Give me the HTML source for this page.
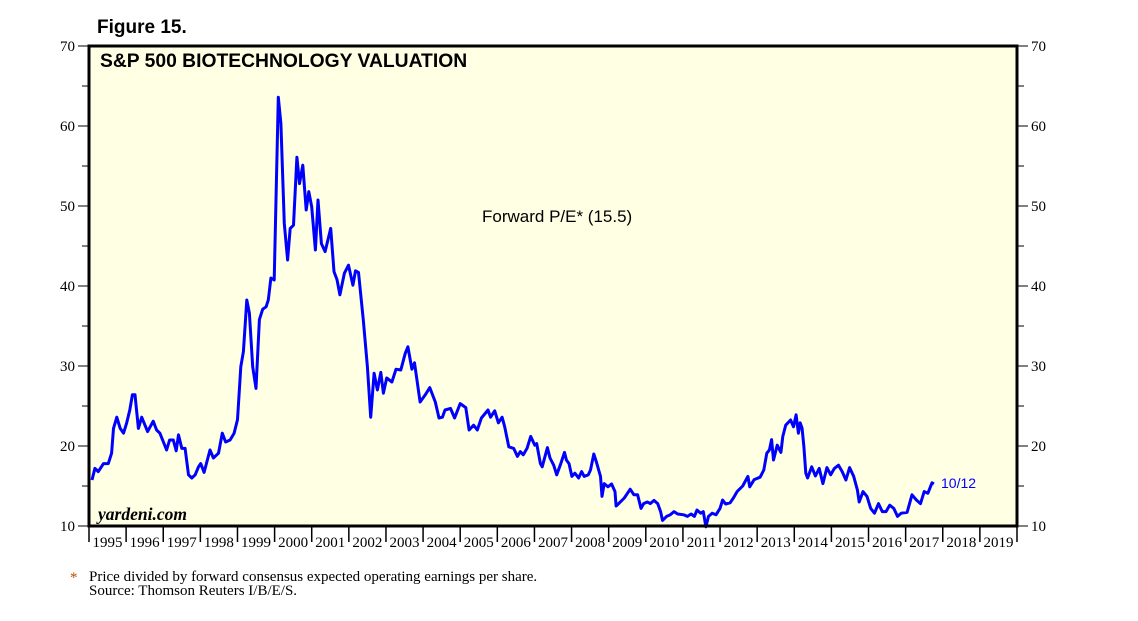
<!DOCTYPE html>
<html><head><meta charset="utf-8"><style>
body{margin:0;background:#fff;width:1138px;height:621px;overflow:hidden}
svg{display:block}
</style></head><body>
<svg id="chart" width="1138" height="621" xmlns="http://www.w3.org/2000/svg">
<text x="97" y="33" font-family="Liberation Sans, sans-serif" font-weight="bold" font-size="19">Figure 15.</text>
<rect x="89" y="46" width="928" height="480" fill="#ffffe4"/>
<g id="grid"></g>
<path id="series" fill="none" stroke="#0000ff" stroke-width="3" stroke-linejoin="round"/>
<rect x="89" y="46" width="928" height="480" fill="none" stroke="#000" stroke-width="3"/>
<text x="100" y="67" font-family="Liberation Sans, sans-serif" font-weight="bold" font-size="19.3">S&amp;P 500 BIOTECHNOLOGY VALUATION</text>
<text x="482" y="222" font-family="Liberation Sans, sans-serif" font-size="17">Forward P/E* (15.5)</text>
<text x="941" y="488" font-family="Liberation Sans, sans-serif" font-size="14" fill="#0000ff">10/12</text>
<text x="98" y="520" font-family="Liberation Serif, serif" font-style="italic" font-weight="bold" font-size="17.5">yardeni.com</text>
<text x="70" y="582" font-family="Liberation Serif, serif" font-size="15" fill="#b05000">*</text>
<text x="89" y="581" font-family="Liberation Serif, serif" font-size="15">Price divided by forward consensus expected operating earnings per share.</text>
<text x="89" y="595" font-family="Liberation Serif, serif" font-size="15">Source: Thomson Reuters I/B/E/S.</text>
</svg>
<script>
const years = [1995.08,1995.16,1995.25,1995.39,1995.52,1995.61,1995.66,1995.75,1995.84,1995.93,1996.01,1996.10,1996.17,1996.24,1996.33,1996.42,1996.58,1996.73,1996.82,1996.91,1997.09,1997.17,1997.27,1997.35,1997.41,1997.50,1997.59,1997.68,1997.77,1997.86,1997.95,1998.01,1998.10,1998.26,1998.35,1998.49,1998.59,1998.68,1998.80,1998.91,1999.00,1999.09,1999.16,1999.25,1999.32,1999.41,1999.50,1999.59,1999.68,1999.77,1999.83,1999.90,1999.99,2000.10,2000.17,2000.26,2000.35,2000.42,2000.51,2000.60,2000.67,2000.76,2000.85,2000.92,2001.00,2001.10,2001.17,2001.26,2001.36,2001.51,2001.60,2001.68,2001.76,2001.88,2001.99,2002.11,2002.18,2002.26,2002.39,2002.50,2002.59,2002.68,2002.77,2002.86,2002.93,2003.02,2003.16,2003.27,2003.40,2003.52,2003.59,2003.70,2003.77,2003.92,2004.06,2004.18,2004.33,2004.43,2004.52,2004.59,2004.74,2004.85,2005.00,2005.15,2005.24,2005.36,2005.46,2005.57,2005.75,2005.82,2005.93,2006.03,2006.13,2006.20,2006.31,2006.44,2006.54,2006.62,2006.70,2006.80,2006.90,2007.01,2007.06,2007.16,2007.21,2007.35,2007.42,2007.52,2007.60,2007.71,2007.81,2007.86,2007.93,2008.01,2008.09,2008.19,2008.27,2008.34,2008.45,2008.51,2008.60,2008.67,2008.78,2008.82,2008.88,2008.98,2009.08,2009.17,2009.20,2009.27,2009.42,2009.58,2009.68,2009.78,2009.87,2009.94,2010.04,2010.12,2010.22,2010.32,2010.40,2010.45,2010.56,2010.66,2010.76,2010.86,2011.02,2011.12,2011.22,2011.31,2011.38,2011.48,2011.55,2011.62,2011.69,2011.79,2011.89,2012.00,2012.07,2012.15,2012.27,2012.36,2012.46,2012.61,2012.75,2012.80,2012.92,2013.08,2013.18,2013.26,2013.33,2013.39,2013.44,2013.54,2013.64,2013.69,2013.77,2013.85,2013.90,2013.98,2014.05,2014.11,2014.16,2014.21,2014.26,2014.31,2014.36,2014.47,2014.57,2014.67,2014.77,2014.88,2014.98,2015.08,2015.19,2015.29,2015.39,2015.49,2015.60,2015.70,2015.75,2015.85,2015.96,2016.06,2016.16,2016.27,2016.37,2016.47,2016.57,2016.68,2016.78,2016.88,2017.04,2017.17,2017.29,2017.40,2017.50,2017.60,2017.71,2017.76];
const peValues = [15.75,17.2,16.8,17.8,17.8,19.1,22.2,23.6,22.2,21.6,22.8,24.5,26.4,26.4,22.2,23.6,21.8,23.1,22.0,21.6,19.5,20.75,20.75,19.4,21.4,19.7,19.7,16.4,16.0,16.4,17.4,17.8,16.7,19.5,18.5,19.1,21.6,20.5,20.75,21.6,23.3,29.9,31.8,38.25,36.6,29.9,27.2,35.8,37.1,37.4,38.25,41.0,40.75,63.6,60.3,47.8,43.25,47.2,47.6,56.1,52.8,55.1,49.5,51.8,49.9,44.5,50.75,45.3,44.3,47.2,41.8,40.8,38.9,41.6,42.6,40.1,41.9,41.7,35.75,29.9,23.6,29.1,27.0,29.2,26.6,28.5,28.0,29.6,29.5,31.6,32.4,29.6,30.4,25.5,26.4,27.3,25.5,23.5,23.6,24.5,24.7,23.5,25.3,24.8,22.0,22.6,22.0,23.5,24.5,23.6,24.4,22.9,23.6,22.4,19.9,19.7,18.7,19.3,18.9,19.7,21.2,20.1,20.3,17.8,17.4,19.8,18.5,17.6,16.4,17.8,19.2,18.25,17.8,16.2,16.6,16.0,16.8,16.2,16.4,17.0,19.0,18.0,16.2,13.7,15.3,14.9,15.25,14.3,12.5,12.8,13.5,14.6,13.9,13.9,12.2,12.8,13.0,12.8,13.2,12.8,11.8,10.7,11.2,11.4,11.8,11.5,11.4,11.2,11.5,11.2,12.0,11.6,11.8,9.9,11.2,11.6,11.4,12.2,13.25,12.75,12.9,13.5,14.3,15.0,16.2,14.9,15.8,16.1,17.0,19.1,19.5,20.8,18.25,20.1,19.2,21.2,22.6,23.0,23.25,22.4,23.9,21.6,22.9,22.2,19.9,16.6,16.0,17.4,16.25,17.2,15.3,17.3,16.4,17.2,17.6,16.8,15.75,17.3,16.2,14.5,13.0,14.3,13.7,12.2,11.6,12.8,11.8,11.8,12.6,12.2,11.2,11.6,11.7,13.9,13.25,12.8,14.3,14.1,15.4,15.25];
const yTicks = [10,20,30,40,50,60,70];
const yMinor = [15,25,35,45,55,65];
const xYears = [1995,1996,1997,1998,1999,2000,2001,2002,2003,2004,2005,2006,2007,2008,2009,2010,2011,2012,2013,2014,2015,2016,2017,2018,2019];

const L=89,R=1017,T=46,B=526;
const xs = t => L + (t-1995)*(R-L)/25;
const ys = v => B - (v-10)*(B-T)/60;
const NS='http://www.w3.org/2000/svg';
const svg=document.getElementById('chart');
function mk(tag,attrs){const e=document.createElementNS(NS,tag);for(const k in attrs)e.setAttribute(k,attrs[k]);return e;}

yTicks.forEach(v=>{
  const y=ys(v);
  const tl=mk('line',{x1:78,x2:L,y1:y,y2:y,stroke:'#000','stroke-width':1});
  
  
  svg.appendChild(tl);
  const tr=mk('line',{x1:R,x2:1028,y1:y,y2:y,stroke:'#000','stroke-width':1});
  
  
  svg.appendChild(tr);
  const a=mk('text',{x:75,y:y+5,'text-anchor':'end','font-family':'Liberation Serif, serif','font-size':15});
  
  
  a.textContent=v;svg.appendChild(a);
  const b=mk('text',{x:1031,y:y+5,'font-family':'Liberation Serif, serif','font-size':15});
  
  
  b.textContent=v;svg.appendChild(b);
});
yMinor.forEach(v=>{
  const y=ys(v);
  const a=mk('line',{x1:82,x2:L,y1:y,y2:y,stroke:'#000','stroke-width':1});
  
  
  svg.appendChild(a);
  const b=mk('line',{x1:R,x2:1024,y1:y,y2:y,stroke:'#000','stroke-width':1});
  
  
  svg.appendChild(b);
});
xYears.forEach(yr=>{
  const x=xs(yr);
  const t=mk('line',{x1:x,x2:x,y1:B,y2:B+16,stroke:'#000','stroke-width':1.5});
  
  
  svg.appendChild(t);
  const lb=mk('text',{x:xs(yr+0.5),y:B+21,'text-anchor':'middle','font-family':'Liberation Serif, serif','font-size':15});
  
  
  lb.textContent=yr;svg.appendChild(lb);
});
const endT=mk('line',{x1:R,x2:R,y1:B,y2:B+16,stroke:'#000','stroke-width':1.5});


svg.appendChild(endT);

let d='';
years.forEach((t,i)=>{d+=(i?'L':'M')+xs(t).toFixed(1)+' '+ys(peValues[i]).toFixed(1)+' ';});
document.getElementById('series').setAttribute('d',d);
</script>
</body></html>
